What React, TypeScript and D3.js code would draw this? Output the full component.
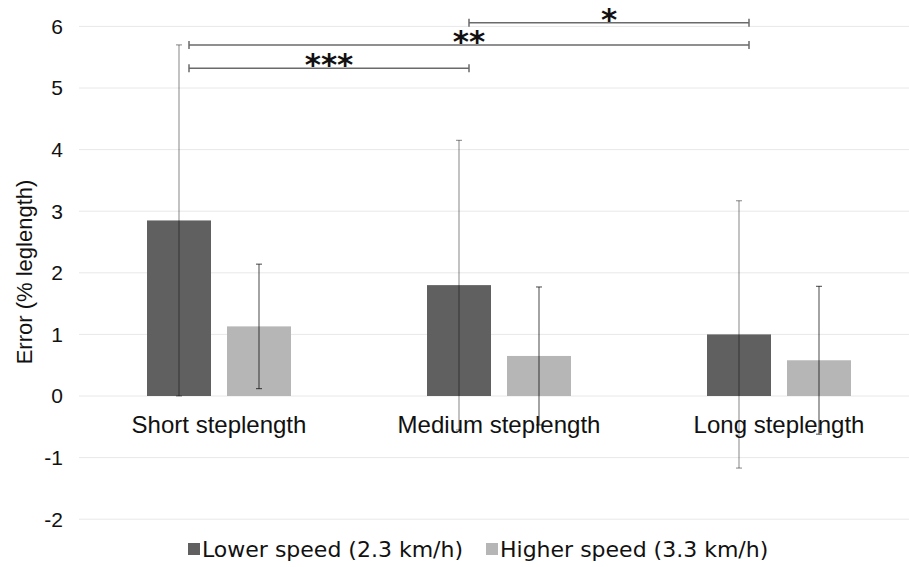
import React from 'react';
import { scaleBand, scaleLinear } from 'd3';

const width = 909;
const height = 567;
const margin = { top: 26.4, left: 79, right: -10, bottom: 47.8 };

const categories = ['Short steplength', 'Medium steplength', 'Long steplength'];
const series = ['Lower speed (2.3 km/h)', 'Higher speed (3.3 km/h)'];
const colors = ['#606060', '#b6b6b6'];
const whiskerColors = ['rgba(0,0,0,0.4)', 'rgba(0,0,0,0.6)'];

const lowerMeans = [2.85, 1.8, 1.0];
const lowerErrors = [2.85, 2.35, 2.17];
const higherMeans = [1.13, 0.65, 0.58];
const higherErrors = [1.01, 1.12, 1.2];

const yTicks = [-2, -1, 0, 1, 2, 3, 4, 5, 6];

// significance brackets between the lower speed bars
const brackets = [
  { from: 1, to: 2, y: 6.06, label: '*' },
  { from: 0, to: 2, y: 5.7, label: '**' },
  { from: 0, to: 1, y: 5.32, label: '***' },
];

export default function App() {
  const innerWidth = width - margin.left - margin.right;
  const innerHeight = height - margin.top - margin.bottom;

  const x0 = scaleBand().domain(categories).range([0, innerWidth]);
  const x1 = scaleBand().domain(series).range([0, x0.bandwidth()]).paddingInner(0.2).paddingOuter(0.85);
  const y = scaleLinear().domain([-2, 6]).range([innerHeight, 0]);

  const rows = categories.map((c, i) => ({
    cat: c,
    vals: [
      { s: series[0], v: lowerMeans[i], e: lowerErrors[i] },
      { s: series[1], v: higherMeans[i], e: higherErrors[i] },
    ],
  }));

  const darkCenter = (i: number) => x0(categories[i])! + x1(series[0])! + x1.bandwidth() / 2 + 10;

  return (
    <svg width={width} height={height} style={{ position: 'absolute', left: 0, top: 0, background: '#fff' }}>
      <g transform={`translate(${margin.left},${margin.top})`}>
        {yTicks.map(t => (
          <g key={t}>
            <line x1={0} x2={innerWidth} y1={y(t)} y2={y(t)} stroke="#e8e8e8" strokeWidth={1} />
            <text x={-16} y={y(t)} dy="0.35em" textAnchor="end" fontFamily="'Liberation Sans', Arial, sans-serif" fontSize={21} fill="#111">{t}</text>
          </g>
        ))}
        {rows.map(r => (
          <g key={r.cat} transform={`translate(${x0(r.cat)},0)`}>
            {r.vals.map((d, j) => (
              <rect key={d.s} x={x1(d.s)} y={y(Math.max(0, d.v))} width={x1.bandwidth()} height={Math.abs(y(d.v) - y(0))} fill={colors[j]} />
            ))}
          </g>
        ))}
        {rows.map(r => (
          <text key={r.cat} x={x0(r.cat)! + x0.bandwidth() / 2} y={y(0) + 37} textAnchor="middle" fontFamily="'Liberation Sans', Arial, sans-serif" fontSize={24} fill="#111">{r.cat}</text>
        ))}
        {rows.map(r => (
          <g key={r.cat} transform={`translate(${x0(r.cat)},0)`}>
            {r.vals.map((d, j) => {
              const cx = x1(d.s)! + x1.bandwidth() / 2;
              return (
                <g key={d.s} stroke={whiskerColors[j]} strokeWidth={1.2}>
                  <line x1={cx} x2={cx} y1={y(d.v + d.e)} y2={y(d.v - d.e)} />
                  <line x1={cx - 3} x2={cx + 3} y1={y(d.v + d.e)} y2={y(d.v + d.e)} />
                  <line x1={cx - 3} x2={cx + 3} y1={y(d.v - d.e)} y2={y(d.v - d.e)} />
                </g>
              );
            })}
          </g>
        ))}
        {brackets.map(b => {
          const xa = darkCenter(b.from);
          const xb = darkCenter(b.to);
          const yy = y(b.y);
          return (
            <g key={b.label}>
              <g stroke="#6a6a6a" strokeWidth={1.5}>
                <line x1={xa} x2={xb} y1={yy} y2={yy} />
                <line x1={xa} x2={xa} y1={yy - 4} y2={yy + 4} />
                <line x1={xb} x2={xb} y1={yy - 4} y2={yy + 4} />
              </g>
              <text x={(xa + xb) / 2} y={yy + 7} textAnchor="middle" fontFamily="'DejaVu Sans', sans-serif" fontWeight="bold" fontSize={31} fill="#111">{b.label}</text>
            </g>
          );
        })}
      </g>
      <text transform={`translate(32,272) rotate(-90)`} textAnchor="middle" fontFamily="'Liberation Sans', Arial, sans-serif" fontSize={22} fill="#111">Error (% leglength)</text>
      <g fontFamily="'DejaVu Sans', Verdana, sans-serif" fontSize={22} fill="#111">
        {series.map((s, j) => (
          <g key={s} transform={`translate(${j === 0 ? 188 : 486},543)`}>
            <rect width={12} height={12} fill={colors[j]} />
            <text x={14} y={13.5}>{s}</text>
          </g>
        ))}
      </g>
    </svg>
  );
}
